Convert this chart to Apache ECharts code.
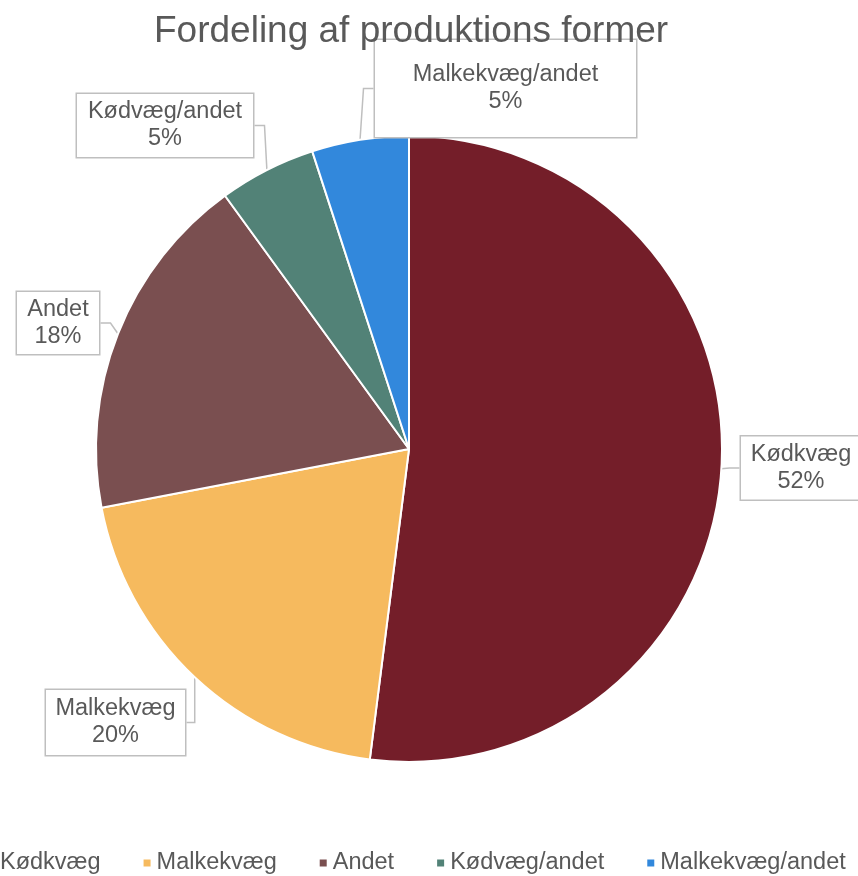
<!DOCTYPE html>
<html>
<head>
<meta charset="utf-8">
<script src="https://cdn.jsdelivr.net/npm/echarts@6/dist/echarts.min.js"></script>
<style>
html,body{margin:0;padding:0;background:#fff;}
#chart{width:858px;height:876px;}
</style>
</head>
<body>
<div id="chart"></div>
<script>
const titleText = 'Fordeling af produktions former';
const categories = ['Kødkvæg', 'Malkekvæg', 'Andet', 'Kødvæg/andet', 'Malkekvæg/andet'];
const values = [52, 20, 18, 5, 5];

const colors = ['#741E29', '#F6BA5E', '#7A4F50', '#528277', '#3288DC'];
// label box layout: [centerX, centerY, width, height]
const labelBoxes = [
  [801, 468, 120, 63],
  [115.5, 722.5, 139, 65],
  [58, 323, 82, 62],
  [165, 125.5, 176, 63],
  [505.5, 88.5, 261, 97]
];

const chart = echarts.init(document.getElementById('chart'));
const font = '"Liberation Sans", Arial, sans-serif';
const LINE_H = 27;

const data = categories.map((c, i) => ({
  name: c,
  value: values[i],
  itemStyle: { color: colors[i] },
  label: { padding: [(labelBoxes[i][3] - 2 * LINE_H) / 2, 0] }
}));

chart.setOption({
  animation: false,
  color: colors,
  title: {
    text: titleText,
    left: 149,
    top: 8,
    textStyle: { fontSize: 37, fontWeight: 'normal', color: '#595959', fontFamily: font }
  },
  legend: {
    data: categories,
    left: -15,
    top: 851,
    padding: 0,
    itemGap: 41,
    itemWidth: 9,
    itemHeight: 9,
    icon: 'rect',
    textStyle: { fontSize: 23.5, color: '#595959', fontFamily: font }
  },
  series: [{
    type: 'pie',
    center: [409, 449],
    radius: 313,
    startAngle: 90,
    clockwise: true,
    itemStyle: { borderColor: '#ffffff', borderWidth: 2 },
    label: {
      show: true,
      position: 'outside',
      formatter: p => p.name + '\n' + Math.round(p.percent) + '%',
      fontSize: 23.5,
      lineHeight: LINE_H,
      color: '#595959',
      fontFamily: font,
      align: 'center',
      overflow: 'none',
      backgroundColor: '#ffffff',
      borderColor: '#BFBFBF',
      borderWidth: 1.5
    },
    labelLine: {
      show: true,
      length: 10,
      length2: 10,
      smooth: false,
      lineStyle: { color: '#BFBFBF', width: 1.5 }
    },
    labelLayout: function (params) {
      const b = labelBoxes[params.dataIndex];
      return { x: b[0], y: b[1], width: b[2], align: 'center', verticalAlign: 'middle' };
    },
    data: data
  }]
});
</script>
</body>
</html>
